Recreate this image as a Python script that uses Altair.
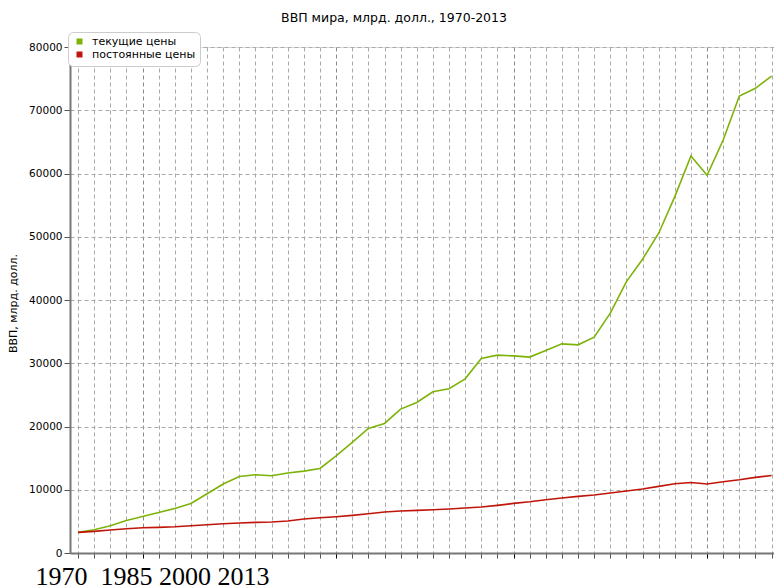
import altair as alt
import pandas as pd

years = list(range(1970, 2014))
current = [3255, 3680, 4310, 5150, 5780, 6415, 7050, 7840, 9370, 10900,
           12100, 12370, 12210, 12640, 12950, 13370, 15370, 17480, 19690, 20480,
           22750, 23800, 25490, 25960, 27540, 30750, 31280, 31170, 30970, 32010,
           33070, 32910, 34130, 37920, 42910, 46450, 50560, 56340, 62770, 59720,
           65300, 72250, 73470, 75400]
constant = [3255, 3420, 3630, 3840, 4000, 4050, 4150, 4310, 4470, 4630,
            4740, 4840, 4890, 5050, 5370, 5580, 5740, 5950, 6210, 6480,
            6630, 6740, 6840, 6950, 7110, 7270, 7530, 7840, 8100, 8420,
            8690, 8950, 9160, 9480, 9790, 10110, 10530, 10950, 11150, 10900,
            11270, 11580, 11950, 12260]
series_names = ["текущие цены", "постоянные цены"]
series_colors = ["#7db308", "#c0150a"]
y_ticks = list(range(0, 80001, 10000))
major_years = [1974, 1986, 1997, 2009]
x_labels = ["1970", "1985", "2000", "2013"]
title_text = "ВВП мира, млрд. долл., 1970-2013"
y_title = "ВВП, млрд. долл."

df = pd.DataFrame({
    "year": years * 2,
    "value": current + constant,
    "series": [series_names[0]] * len(years) + [series_names[1]] * len(years),
})

major_test = "indexof([" + ",".join(str(y) for y in major_years) + "], datum.value) >= 0"
x_title = x_labels[0] + "\u00a0\u00a0" + "\u00a0".join(x_labels[1:])

chart = alt.Chart(df).mark_line(strokeWidth=1.6, clip=True).encode(
    x=alt.X(
        "year:Q",
        scale=alt.Scale(domain=[1969.5, 2013.15], nice=False, zero=False),
        axis=alt.Axis(
            values=years, labels=False, ticks=True, tickSize=5,
            tickColor={"condition": {"test": major_test, "value": "#000000"}, "value": "#555555"},
            grid=True,
            gridColor={"condition": {"test": major_test, "value": "#8a8a8a"}, "value": "#a9a9a9"},
            gridDash=[4, 3], gridWidth=1,
            domainColor="#777777", domainWidth=2,
            title=x_title, titleFont="Liberation Serif", titleFontSize=26,
            titleFontWeight="normal", titleColor="#000000",
            titleAlign="left", titleAnchor="start", titleBaseline="alphabetic",
            titleX=-35, titleY=31,
        ),
    ),
    y=alt.Y(
        "value:Q",
        scale=alt.Scale(domain=[0, 80000], nice=False),
        axis=alt.Axis(
            values=y_ticks, format="d",
            labelFont="DejaVu Sans", labelFontSize=10.5, labelColor="#000000", labelPadding=2,
            tickSize=6, tickColor="#555555",
            domainColor="#777777", domainWidth=2,
            grid=True, gridDash=[4, 3], gridColor="#a9a9a9", gridWidth=1,
            title=y_title, titleFont="DejaVu Sans", titleFontSize=11,
            titleFontWeight="normal", titleColor="#000000",
            titleAngle=-90, titleAlign="center", titleBaseline="middle",
            titleX=-57, titleY=256,
        ),
    ),
    color=alt.Color(
        "series:N",
        scale=alt.Scale(domain=series_names, range=series_colors),
        legend=alt.Legend(
            orient="none", legendX=-2, legendY=-15, title=None,
            fillColor="#ffffff", strokeColor="#cccccc", cornerRadius=5, padding=4,
            symbolType="square", symbolSize=9, symbolStrokeWidth=3, symbolOffset=2,
            labelFont="DejaVu Sans", labelFontSize=11, labelColor="#000000",
            labelOffset=7, rowPadding=-3,
        ),
    ),
).properties(
    width=704,
    height=506,
    title=alt.TitleParams(
        text=title_text, font="DejaVu Sans", fontSize=12.5, fontWeight="normal",
        color="#000000", anchor="middle", frame="group", dx=-28, dy=5, offset=2,
        baseline="alphabetic",
    ),
    autosize=alt.AutoSizeParams(type="none"),
    padding={"left": 62, "top": 39, "right": 0, "bottom": 35},
).configure_view(
    fill="#dcdcdc", stroke="#bbbbbb", strokeWidth=1,
).configure(background="#ffffff")

chart.save("out.html", embed_options={"renderer": "svg", "actions": False})
